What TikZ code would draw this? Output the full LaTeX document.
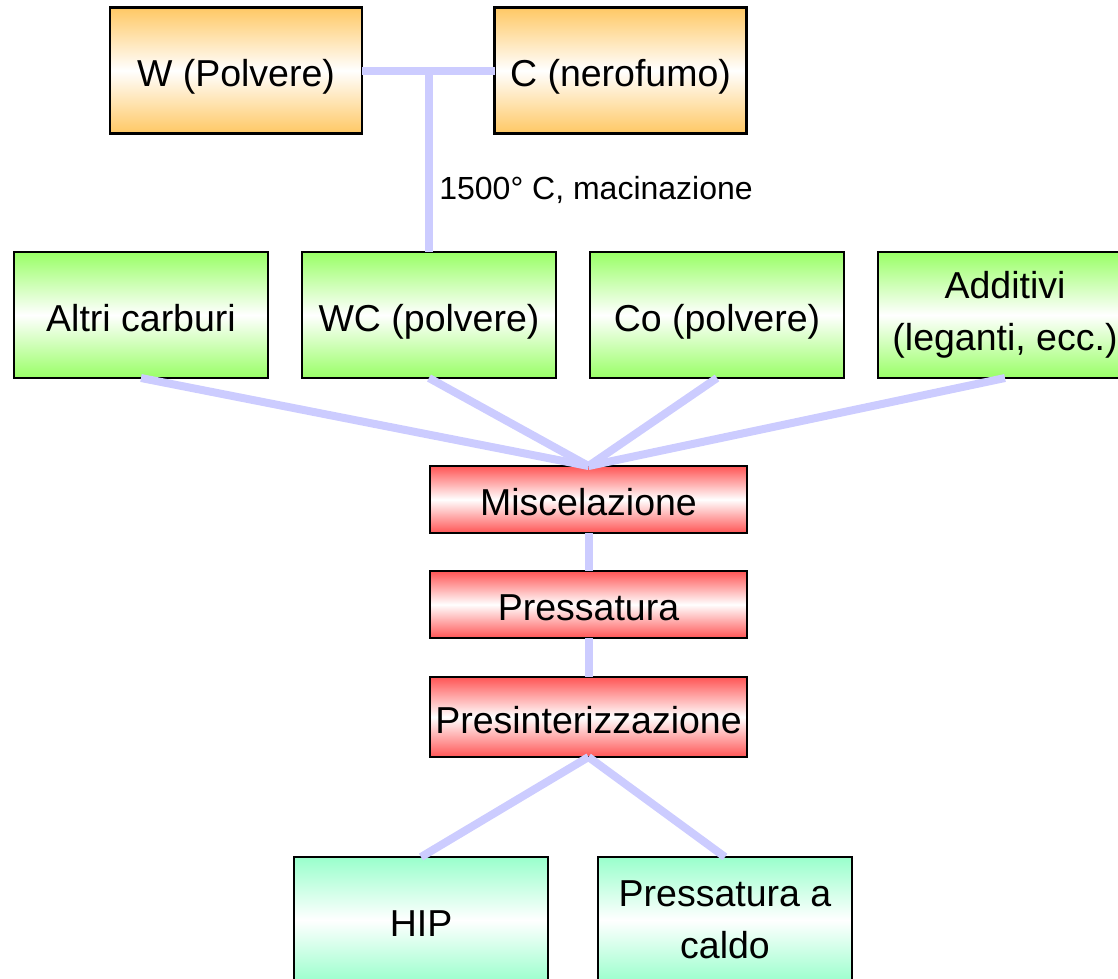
\documentclass[tikz,border=0pt]{standalone}
\usepackage{fontspec}
\setmainfont{Liberation Sans}
\usetikzlibrary{positioning}

\definecolor{orangebox}{RGB}{255,200,100}
\definecolor{greenbox}{RGB}{153,255,102}
\definecolor{redbox}{RGB}{255,85,85}
\definecolor{mintbox}{RGB}{153,255,204}
\definecolor{linkline}{RGB}{204,204,255}

% colour - white - colour, top to bottom
\newcommand{\boxshade}[1]{%
  \pgfdeclareverticalshading{#1shade}{100bp}{color(0bp)=(#1); color(25bp)=(#1);
    color(50bp)=(white); color(75bp)=(#1); color(100bp)=(#1)}}
\boxshade{orangebox}
\boxshade{greenbox}
\boxshade{redbox}
\boxshade{mintbox}

\begin{document}
\begin{tikzpicture}[
    x=1pt, y=1pt,
    box/.style={draw=black,line width=2.5pt,outer sep=0pt,minimum width=254pt,minimum height=126pt,
      align=center,inner sep=0pt,font=\fontsize{37.5}{52}\selectfont,shading=#1shade},
    oneline/.style={text height=36pt,text depth=4pt},
    stepbox/.style={box=redbox,oneline,minimum width=317pt},
    link/.style={draw=linkline,line width=8pt}]
  \useasboundingbox (0,0) rectangle (1118,-978);
  \node[box=orangebox,oneline,minimum width=252pt] (w) at (236,-70.5) {W (Polvere)};
  \node[box=orangebox,oneline,minimum width=252pt] (c) at (620.5,-70.5) {C (nerofumo)};
  \node[box=greenbox,oneline] (wc) at (429,-315) {WC (polvere)};
  \node[box=greenbox,oneline,left=34pt of wc] (altri) {Altri carburi};
  \node[box=greenbox,oneline,right=34pt of wc] (co) {Co (polvere)};
  \node[box=greenbox,right=34pt of co] (add) {Additivi\\(leganti, ecc.)};
  \node[stepbox,minimum height=67pt] (mix) at (588.5,-499.5) {Miscelazione};
  \node[stepbox,minimum height=67pt,below=38pt of mix] (press) {Pressatura};
  \node[stepbox,minimum height=80pt,below=39pt of press] (presint) {Presinterizzazione};
  \node[box=mintbox,oneline] (hip) at (421,-920) {HIP};
  \node[box=mintbox,right=50pt of hip] (caldo) {Pressatura a\\caldo};
  \coordinate (join) at (wc.north |- w.east);
  \draw[link] (w.east) -- (c.west);
  \draw[link] (join) -- node[right=3pt,pos=.66,font=\fontsize{32}{36}\selectfont]{1500° C, macinazione} (wc.north);
  \foreach \src in {altri,wc,co,add}
    \draw[link] (\src.south) -- (mix.north);
  \draw[link] (mix) -- (press);
  \draw[link] (press) -- (presint);
  \draw[link] (presint.south) -- (hip.north);
  \draw[link] (presint.south) -- (caldo.north);
\end{tikzpicture}
\end{document}
